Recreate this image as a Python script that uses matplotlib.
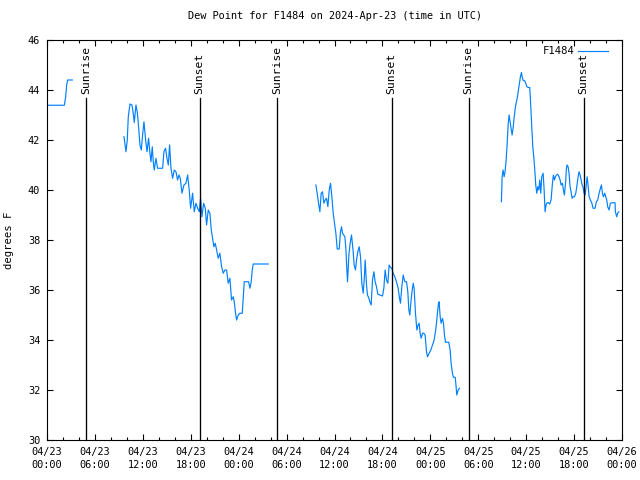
import datetime as dt

import matplotlib
matplotlib.use("Agg")
import matplotlib.pyplot as plt
import matplotlib.transforms as mtransforms
from matplotlib.ticker import FuncFormatter, MultipleLocator

BLUE = "#0080ff"
FONT = "DejaVu Sans Mono"
START = dt.datetime(2024, 4, 23)

# hours since 2024-04-23 00:00 UTC, dew point in degrees F (one list pair per unbroken run)
seg1_h = [0.16, 2.17, 2.34, 2.46, 2.59, 3.17]
seg1_v = [43.39, 43.39, 43.73, 44.2, 44.4, 44.4]

seg2_h = [9.64, 9.89, 10.05, 10.18, 10.39, 10.64, 10.80, 10.93, 11.14, 11.31, 11.47, 11.64,
          11.81, 11.97, 12.14, 12.35, 12.52, 12.72, 12.89, 13.02, 13.18, 13.31, 13.43, 13.64,
          13.85, 14.14, 14.48, 14.64, 14.85, 15.02, 15.19, 15.35, 15.52, 15.73, 15.94, 16.15,
          16.35, 16.52, 16.69, 16.90, 17.15, 17.40, 17.61, 17.81, 17.98, 18.23, 18.44, 18.65,
          18.86, 19.07, 19.23, 19.40, 19.61, 19.82, 19.98, 20.19, 20.40, 20.57, 20.73, 20.90,
          21.07, 21.24, 21.44, 21.65, 21.86, 22.07, 22.28, 22.49, 22.69, 22.90, 23.11, 23.32,
          23.45, 23.61, 23.74, 23.95, 24.16, 24.45, 24.57, 24.70, 24.99, 25.24, 25.41, 25.57,
          25.70, 25.82, 27.70]
seg2_v = [42.13, 41.53, 42.0, 42.93, 43.44, 43.4, 43.07, 42.7, 43.4, 43.1, 42.53, 41.8,
          41.6, 42.2, 42.73, 42.0, 41.53, 42.07, 41.47, 41.13, 41.73, 41.13, 40.8, 41.27,
          40.87, 40.87, 40.87, 41.53, 41.67, 41.27, 41.0, 41.8, 40.87, 40.47, 40.8, 40.73,
          40.4, 40.6, 40.47, 39.87, 40.2, 40.27, 40.6, 40.0, 39.27, 39.87, 39.13, 39.47,
          39.27, 39.13, 39.67, 38.93, 39.47, 39.27, 38.6, 39.2, 39.07, 38.4, 38.07, 37.73,
          37.87, 37.6, 37.27, 37.47, 36.93, 36.67, 36.8, 36.8, 36.27, 36.47, 35.6, 35.73,
          35.53, 35.07, 34.8, 35.0, 35.07, 35.07, 35.67, 36.33, 36.33, 36.33, 36.07, 36.33,
          36.8, 37.04, 37.04]

seg3_h = [33.67, 33.83, 34.00, 34.17, 34.33, 34.50, 34.67, 34.83, 35.00, 35.17, 35.34, 35.50,
          35.67, 35.84, 36.00, 36.17, 36.34, 36.59, 36.75, 36.88, 37.00, 37.30, 37.42, 37.55,
          37.63, 37.80, 37.96, 38.13, 38.34, 38.46, 38.63, 38.76, 38.92, 39.09, 39.26, 39.42,
          39.59, 39.72, 39.84, 40.01, 40.13, 40.30, 40.43, 40.59, 40.76, 40.93, 41.09, 41.26,
          41.43, 41.68, 42.01, 42.18, 42.34, 42.51, 42.68, 42.84, 43.01, 43.18, 43.35, 43.55,
          43.76, 43.97, 44.14, 44.26, 44.43, 44.60, 44.81, 45.02, 45.18, 45.31, 45.43, 45.56,
          45.68, 45.85, 45.97, 46.14, 46.31, 46.47, 46.60, 46.72, 46.85, 47.02, 47.18, 47.35,
          47.52, 47.64, 47.85, 48.06, 48.27, 48.48, 48.64, 48.77, 48.89, 49.02, 49.10, 49.23,
          49.35, 49.52, 49.65, 49.77, 49.90, 50.31, 50.48, 50.60, 50.77, 50.90, 51.11, 51.19,
          51.31, 51.48, 51.65]
seg3_v = [40.2, 39.87, 39.47, 39.13, 39.87, 39.93, 39.47, 39.6, 39.67, 39.33, 40.0, 40.27,
          39.73, 39.07, 38.67, 38.27, 37.64, 37.64, 38.33, 38.53, 38.27, 38.13, 37.67, 36.8,
          36.33, 37.4, 37.87, 38.2, 37.53, 37.0, 36.8, 37.2, 37.53, 37.73, 37.33, 36.27,
          35.87, 36.4, 37.2, 36.2, 35.8, 35.67, 35.53, 35.4, 36.4, 36.73, 36.33, 36.13,
          35.83, 35.8, 35.76, 36.07, 36.8, 36.4, 36.27, 37.0, 36.9, 36.87, 36.67, 36.53,
          36.33, 36.07, 35.67, 35.47, 36.13, 36.6, 36.33, 36.33, 35.93, 35.2, 35.0, 35.47,
          35.87, 36.27, 36.07, 35.07, 34.4, 34.6, 34.67, 34.27, 34.07, 34.27, 34.27, 34.2,
          33.53, 33.33, 33.47, 33.6, 33.8, 34.0, 34.33, 34.67, 35.07, 35.47, 35.53, 34.93,
          34.67, 34.87, 34.67, 34.2, 33.91, 33.91, 33.6, 33.07, 32.67, 32.51, 32.51, 32.27,
          31.8, 32.0, 32.07]

seg4_h = [56.90, 56.99, 57.11, 57.24, 57.36, 57.49, 57.61, 57.74, 57.86, 57.99, 58.11, 58.24,
          58.36, 58.53, 58.66, 58.78, 58.91, 59.03, 59.16, 59.28, 59.41, 59.53, 59.66, 59.82,
          59.95, 60.08, 60.28, 60.45, 60.58, 60.70, 60.83, 60.95, 61.08, 61.20, 61.33, 61.45,
          61.58, 61.70, 61.83, 61.95, 62.12, 62.24, 62.37, 62.49, 62.62, 62.79, 62.95, 63.12,
          63.29, 63.41, 63.54, 63.66, 63.79, 63.95, 64.12, 64.25, 64.37, 64.54, 64.66, 64.79,
          64.96, 65.04, 65.12, 65.25, 65.37, 65.50, 65.62, 65.75, 65.87, 66.04, 66.21, 66.37,
          66.50, 66.62, 66.75, 66.88, 67.00, 67.12, 67.25, 67.38, 67.50, 67.63, 67.75, 67.88,
          68.04, 68.21, 68.38, 68.63, 68.79, 68.96, 69.13, 69.30, 69.42, 69.55, 69.67, 69.84,
          69.96, 70.09, 70.21, 70.38, 70.55, 70.75, 71.00, 71.13, 71.17, 71.34, 71.46, 71.59]
seg4_v = [39.53, 40.53, 40.8, 40.53, 40.73, 41.2, 41.8, 42.6, 43.0, 42.73, 42.47, 42.2,
          42.47, 43.0, 43.33, 43.53, 43.73, 44.0, 44.27, 44.53, 44.7, 44.47, 44.37, 44.37,
          44.27, 44.13, 44.1, 44.1, 43.33, 42.53, 41.73, 41.33, 40.8, 40.2, 39.87, 40.13,
          40.0, 40.4, 39.87, 40.53, 40.67, 40.07, 39.13, 39.4, 39.49, 39.49, 39.44, 39.6,
          40.27, 40.6, 40.4, 40.53, 40.6, 40.63, 40.53, 40.4, 40.2, 40.27, 40.0, 39.8,
          40.4, 40.87, 41.0, 40.93, 40.67, 40.13, 39.93, 39.67, 39.73, 39.73, 39.87, 40.2,
          40.53, 40.73, 40.6, 40.4, 40.2, 40.13, 39.87, 39.8, 40.13, 40.53, 40.2, 39.73,
          39.6, 39.49, 39.27, 39.27, 39.53, 39.6, 39.87, 40.07, 40.2, 39.87, 39.73, 39.87,
          39.73, 39.6, 39.33, 39.2, 39.47, 39.49, 39.49, 39.49, 39.13, 38.93, 39.07, 39.13]

sun_h = [4.9, 19.1, 28.8, 43.15, 52.8, 67.2]
sun_lbl = ["Sunrise", "Sunset", "Sunrise", "Sunset", "Sunrise", "Sunset"]


def _fmt(h, _pos):
    t = START + dt.timedelta(hours=h)
    return t.strftime("%m/%d\n%H:%M")


fig = plt.figure(figsize=(6.4, 4.8), dpi=100)
ax = fig.add_axes([47 / 640, 40 / 480, 575 / 640, 400 / 480])

segs = [(seg1_h, seg1_v), (seg2_h, seg2_v), (seg3_h, seg3_v), (seg4_h, seg4_v)]
for i, (h, v) in enumerate(segs):
    ax.plot(h, v, color=BLUE, lw=0.85, label="F1484" if i == 0 else None)

trans = mtransforms.blended_transform_factory(ax.transData, ax.transAxes)
for h, lbl in zip(sun_h, sun_lbl):
    ax.plot([h, h], [0, 0.855], transform=trans, color="black", lw=0.95)
    ax.text(h, 0.865, lbl, transform=trans, rotation=90, ha="center", va="bottom",
            family=FONT, fontsize=8.2)

ax.set_xlim(0, 72)
ax.set_ylim(30, 46)
ax.xaxis.set_major_locator(MultipleLocator(6))
ax.xaxis.set_minor_locator(MultipleLocator(2))
ax.xaxis.set_major_formatter(FuncFormatter(_fmt))
ax.yaxis.set_major_locator(MultipleLocator(2))
ax.tick_params(which="both", direction="in", top=True, right=True, width=0.8,
               labelsize=7.4, labelfontfamily=FONT)
ax.tick_params(which="major", length=4.5, pad=5)
ax.tick_params(which="minor", length=2.5)
for lab in ax.get_xticklabels():
    lab.set_linespacing(1.35)
for s in ax.spines.values():
    s.set_linewidth(0.8)

ax.set_ylabel("degrees F", family=FONT, fontsize=7.6, labelpad=10)
ax.set_title("Dew Point for F1484 on 2024-Apr-23 (time in UTC)", family=FONT,
             fontsize=7.4, pad=15)
ax.legend(loc="upper right", bbox_to_anchor=(1 - 8 / 575, 1.0), frameon=False,
          markerfirst=False, handlelength=2.8, handletextpad=0.35, borderaxespad=0.2,
          prop={"family": FONT, "size": 7.6})

fig.savefig("out.png", dpi=100)
